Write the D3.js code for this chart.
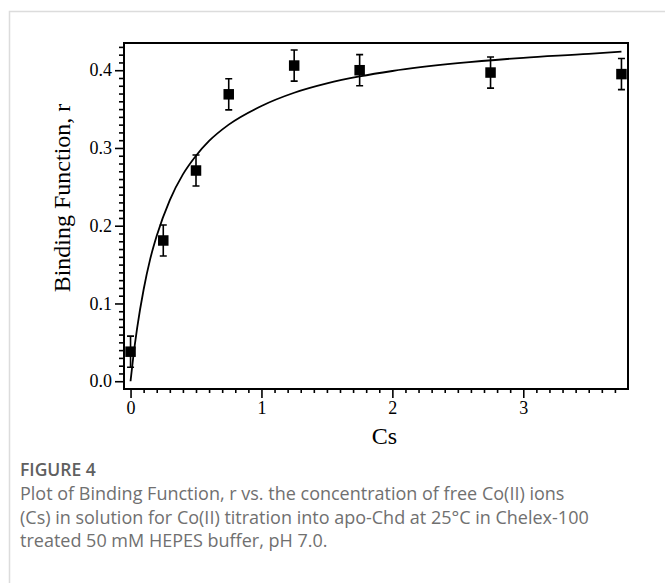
<!DOCTYPE html>
<html>
<head>
<meta charset="utf-8">
<script src="https://cdn.jsdelivr.net/npm/d3@7"></script>
<style>
  body { margin: 0; background: #fff; }
  .caption { font-family: "Open Sans", Lato, sans-serif; fill: #707070; }
</style>
</head>
<body>
<div id="chart"></div>
<script>
// Binding function r vs free Co(II) concentration Cs

// measured points
const csVals = [0, 0.25, 0.5, 0.75, 1.25, 1.75, 2.75, 3.75];
const rVals = [0.038, 0.181, 0.271, 0.369, 0.406, 0.400, 0.397, 0.395];
const rErr = [0.020, 0.020, 0.020, 0.020, 0.020, 0.020, 0.020, 0.020];

// fitted curve
const fitCs = [0, 0.02, 0.05, 0.1, 0.15, 0.2, 0.3, 0.4, 0.5, 0.6, 0.75, 1.0, 1.25, 1.5, 1.75, 2.0, 2.5, 3.0, 3.5, 3.75];
const fitR = [0, 0.030, 0.068, 0.118, 0.157, 0.187, 0.233, 0.266, 0.290, 0.309, 0.330, 0.354, 0.371, 0.383, 0.392, 0.399, 0.409, 0.416, 0.421, 0.424];

// ticks
const xMajor = [0, 1, 2, 3];
const yMajor = [0, 0.1, 0.2, 0.3, 0.4];

const captionTitle = "FIGURE 4";
const captionLines = [
    "Plot of Binding Function, r vs. the concentration of free Co(II) ions",
    "(Cs) in solution for Co(II) titration into apo-Chd at 25°C in Chelex-100",
    "treated 50 mM HEPES buffer, pH 7.0."
];

const serif = "'Liberation Serif', 'Times New Roman', serif";

const svgWidth = 665;
const svgHeight = 583;

const margin = { top: 43, right: 37, bottom: 194, left: 124 };
const width = svgWidth - margin.left - margin.right;
const height = svgHeight - margin.top - margin.bottom;

const svg = d3.select("#chart")
    .append("svg")
    .attr("width", svgWidth)
    .attr("height", svgHeight);

// card outline (left and top edges only visible)
svg.append("path")
    .attr("d", `M9.5,${svgHeight} V11.5 H${svgWidth}`)
    .attr("fill", "none")
    .attr("stroke", "#dcdcdc")
    .attr("stroke-width", 1.5);

const chartGroup = svg.append("g")
    .attr("transform", `translate(${margin.left}, ${margin.top})`);

const x = d3.scaleLinear().domain([-0.05, 3.8]).range([0, width]);
const y = d3.scaleLinear().domain([-0.01, 0.435]).range([height, 0]);

// minor tick values
const xMinor = d3.range(1, 38).map(i => i / 10).filter(v => Math.abs(v - Math.round(v)) > 1e-6);
const yMinor = d3.range(1, 44).map(i => i / 100).filter(v => Math.abs(v * 10 - Math.round(v * 10)) > 1e-6);

// x axis
chartGroup.append("g")
    .attr("transform", `translate(0, ${height})`)
    .call(d3.axisBottom(x).tickValues(xMinor).tickSize(4).tickFormat(""))
    .call(g => g.select(".domain").remove());

const xAxis = chartGroup.append("g")
    .attr("transform", `translate(0, ${height})`)
    .call(d3.axisBottom(x).tickValues(xMajor).tickSize(9).tickPadding(3).tickFormat(d3.format("d")));
xAxis.select(".domain").remove();
xAxis.attr("font-family", serif).attr("font-size", 18);

// y axis
chartGroup.append("g")
    .call(d3.axisLeft(y).tickValues(yMinor).tickSize(5).tickFormat(""))
    .call(g => g.select(".domain").remove());

const yAxis = chartGroup.append("g")
    .call(d3.axisLeft(y).tickValues(yMajor).tickSize(9).tickPadding(3).tickFormat(d3.format(".1f")));
yAxis.select(".domain").remove();
yAxis.attr("font-family", serif).attr("font-size", 18);

chartGroup.selectAll(".tick text").attr("fill", "#000");
chartGroup.selectAll(".tick line")
    .attr("stroke", "#000")
    .attr("stroke-width", 1.6);

// frame
chartGroup.append("rect")
    .attr("x", 0)
    .attr("y", 0)
    .attr("width", width)
    .attr("height", height)
    .attr("fill", "none")
    .attr("stroke", "#000")
    .attr("stroke-width", 2);

// fitted curve
const fitData = fitCs.map((c, i) => ({ c: c, r: fitR[i] }));
const line = d3.line()
    .x(d => x(d.c))
    .y(d => y(d.r))
    .curve(d3.curveMonotoneX);

chartGroup.append("path")
    .datum(fitData)
    .attr("d", line)
    .attr("fill", "none")
    .attr("stroke", "#000")
    .attr("stroke-width", 1.8);

// error bars + points
const pts = csVals.map((c, i) => ({ c: c, r: rVals[i], e: rErr[i] }));
const capW = 3.5;
const sq = 10.5;

const bars = chartGroup.selectAll("g.pt")
    .data(pts)
    .enter()
    .append("g")
    .attr("class", "pt");

bars.append("path")
    .attr("d", d => {
        const cx = x(d.c), y1 = y(d.r + d.e), y2 = y(d.r - d.e);
        return `M${cx},${y1} V${y2} M${cx - capW},${y1} H${cx + capW} M${cx - capW},${y2} H${cx + capW}`;
    })
    .attr("fill", "none")
    .attr("stroke", "#000")
    .attr("stroke-width", 1.6);

bars.append("rect")
    .attr("x", d => x(d.c) - sq / 2)
    .attr("y", d => y(d.r) - sq / 2)
    .attr("width", sq)
    .attr("height", sq)
    .attr("fill", "#000");

// axis titles
svg.append("text")
    .attr("x", margin.left + x(2) - 8)
    .attr("y", 444)
    .attr("text-anchor", "middle")
    .style("font-family", serif)
    .style("font-size", "24px")
    .text("Cs");

svg.append("text")
    .attr("transform", "translate(70, 198) rotate(-90)")
    .attr("text-anchor", "middle")
    .style("font-family", serif)
    .style("font-size", "24px")
    .text("Binding Function, r");

// caption
svg.append("text")
    .attr("class", "caption")
    .attr("x", 20)
    .attr("y", 476)
    .style("font-size", "17.5px")
    .style("font-weight", "600")
    .style("fill", "#606060")
    .text(captionTitle);

svg.selectAll("text.capline")
    .data(captionLines)
    .enter()
    .append("text")
    .attr("class", "caption capline")
    .attr("x", 20)
    .attr("y", (d, i) => 500 + i * 23.5)
    .style("font-size", "18px")
    .text(d => d);
</script>
</body>
</html>
